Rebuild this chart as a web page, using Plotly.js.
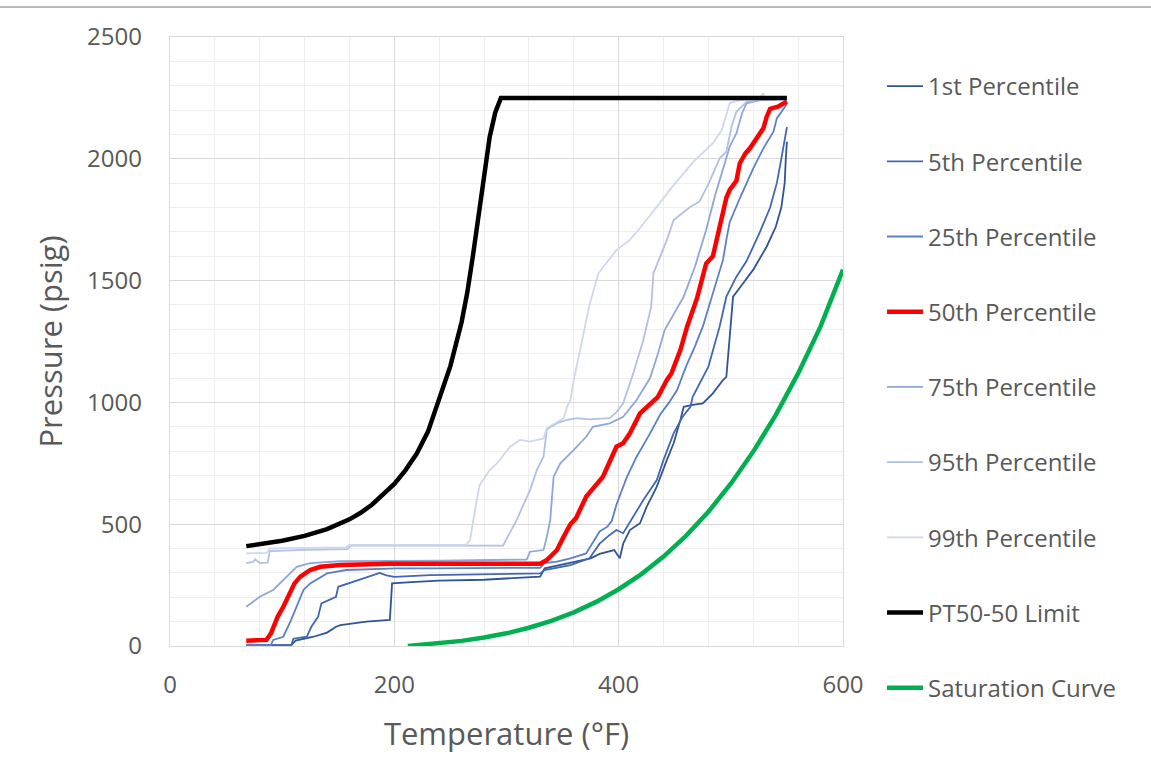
<!DOCTYPE html>
<html>
<head>
<meta charset="utf-8">
<script src="https://cdn.plot.ly/plotly-3.0.1.min.js"></script>
<style>
  html, body { margin: 0; padding: 0; background: #ffffff; }
  #chart { width: 1151px; height: 772px; }
</style>
</head>
<body>
<div id="chart"></div>
<script>
// Heat-up pressure/temperature percentiles (°F, psig)
const seriesNames = ["1st Percentile", "5th Percentile", "25th Percentile", "50th Percentile",
  "75th Percentile", "95th Percentile", "99th Percentile", "PT50-50 Limit", "Saturation Curve"];

const p1T = [68, 108, 112, 128, 140, 148, 152, 175, 196, 198, 215, 240, 280, 330, 334, 345, 357, 375, 383, 390, 396, 401, 404, 410, 419, 425, 434, 443, 449, 455, 458, 466, 475, 484, 493, 496, 497, 502, 511, 520, 532, 540, 545, 548, 549, 550];
const p1P = [3, 3, 22, 38, 55, 79, 86, 100, 107, 257, 262, 268, 272, 285, 319, 330, 339, 360, 378, 385, 394, 360, 420, 476, 504, 572, 654, 764, 832, 928, 982, 990, 996, 1037, 1092, 1105, 1160, 1434, 1489, 1545, 1640, 1720, 1800, 1900, 2000, 2070];

const p5T = [68, 108, 110, 122, 126, 132, 135, 148, 150, 169, 181, 187, 193, 200, 232, 330, 334, 357, 374, 383, 392, 398, 404, 413, 422, 434, 440, 449, 457, 464, 466, 480, 490, 496, 505, 514, 520, 526, 535, 541, 545, 548, 550];
const p5P = [2, 2, 30, 38, 79, 120, 175, 202, 243, 271, 291, 300, 290, 284, 291, 298, 312, 332, 360, 420, 456, 476, 463, 531, 599, 681, 764, 873, 941, 982, 1023, 1147, 1311, 1434, 1516, 1580, 1640, 1700, 1800, 1900, 2000, 2080, 2130];

const p25T = [68, 90, 92, 101, 108, 113, 119, 125, 140, 157, 202, 232, 330, 334, 345, 357, 371, 383, 390, 394, 398, 407, 416, 428, 437, 445, 452, 460, 468, 475, 487, 493, 496, 499, 508, 520, 529, 538, 541, 547, 550];
const p25P = [2, 5, 25, 38, 107, 161, 230, 257, 298, 312, 319, 319, 321, 340, 346, 360, 380, 470, 490, 515, 580, 690, 777, 873, 950, 1000, 1050, 1147, 1230, 1311, 1489, 1585, 1667, 1740, 1838, 1961, 2043, 2111, 2166, 2207, 2225];

const p50T = [68, 86, 90, 93, 96, 101, 105, 111, 116, 125, 134, 152, 196, 240, 330, 336, 345, 351, 357, 362, 371, 386, 398, 404, 410, 419, 428, 435, 443, 447, 455, 461, 470, 478, 484, 492, 496, 499, 505, 508, 513, 517, 522, 526, 529, 532, 535, 542, 550];
const p50P = [22, 25, 52, 93, 120, 161, 202, 257, 284, 312, 325, 332, 338, 338, 338, 353, 394, 449, 500, 525, 613, 695, 818, 832, 873, 955, 996, 1023, 1092, 1119, 1215, 1311, 1430, 1570, 1600, 1749, 1840, 1872, 1910, 1982, 2022, 2043, 2077, 2100, 2125, 2173, 2205, 2214, 2235];

const p75T = [68, 80, 92, 104, 113, 125, 152, 240, 318, 321, 333, 336, 339, 342, 348, 360, 371, 377, 392, 404, 416, 428, 435, 441, 458, 468, 478, 486, 495, 499, 505, 510, 514, 526, 550];
const p75P = [161, 202, 230, 284, 325, 340, 348, 350, 355, 387, 394, 449, 517, 695, 750, 805, 859, 900, 914, 941, 1010, 1100, 1200, 1297, 1434, 1557, 1708, 1850, 1995, 2050, 2105, 2187, 2228, 2241, 2245];

const p95T = [68, 74, 76, 80, 87, 89, 120, 158, 161, 297, 300, 306, 309, 321, 327, 333, 336, 345, 354, 363, 374, 392, 398, 404, 413, 422, 429, 431, 443, 449, 464, 472, 481, 490, 496, 501, 505, 514, 526, 550];
const p95P = [340, 345, 356, 340, 342, 390, 395, 398, 412, 412, 440, 490, 517, 640, 722, 777, 890, 915, 928, 935, 930, 935, 960, 996, 1119, 1256, 1393, 1530, 1667, 1749, 1803, 1824, 1906, 2002, 2029, 2139, 2193, 2234, 2241, 2248];

const p99T = [68, 86, 89, 100, 157, 160, 264, 267.5, 272, 276, 285, 291.5, 303, 312, 321, 333, 336, 345, 351, 354, 357, 360, 366, 374, 382, 398, 410, 419, 434, 449, 466.5, 484, 492, 496, 499, 508, 525, 529, 531, 550];
const p99P = [380, 382, 400, 402, 405, 415, 415, 435, 560, 660, 722, 750, 817, 846, 839, 852, 895, 920, 935, 982, 1010, 1092, 1229, 1400, 1530, 1625, 1667, 1716, 1803, 1892, 1987, 2064, 2118, 2187, 2229, 2241, 2245, 2270, 2245, 2248];

const limitT = [68, 80, 100, 120, 140, 160, 170, 180, 190, 200, 210, 220, 230, 240, 250, 260, 265, 270, 275, 280, 285, 290, 295, 550];
const limitP = [410, 418, 432, 452, 480, 520, 547, 580, 620, 665, 722, 790, 880, 1010, 1150, 1330, 1450, 1600, 1760, 1935, 2090, 2190, 2250, 2250];

const satT = [212, 220, 240, 260, 280, 300, 320, 340, 360, 380, 400, 420, 440, 460, 480, 500, 520, 540, 560, 580, 600];
const satP = [0, 3, 10, 21, 35, 52, 75, 103, 138, 181, 233, 294, 367, 452, 551, 666, 798, 948, 1119, 1312, 1545];

const xTickVals = [0, 200, 400, 600];
const yTickVals = [0, 500, 1000, 1500, 2000, 2500];

const textGrey = "#595959";
const fontFamily = "'Open Sans', 'Noto Sans', sans-serif";

function line(name, xs, ys, color, width, rank) {
  return {
    type: "scatter", mode: "lines", name: name, x: xs, y: ys,
    line: { color: color, width: width },
    legendgroup: "g" + rank, legendrank: rank, hoverinfo: "x+y+name"
  };
}

// Draw order: thin percentile lines first, median, limit and saturation on top
const traces = [
  line(seriesNames[0], p1T, p1P, "#2f5597", 1.8, 1),
  line(seriesNames[1], p5T, p5P, "#4068b2", 1.8, 2),
  line(seriesNames[2], p25T, p25P, "#5b80c7", 1.8, 3),
  line(seriesNames[4], p75T, p75P, "#8fa6d8", 1.8, 5),
  line(seriesNames[5], p95T, p95P, "#b1c0e4", 1.8, 6),
  line(seriesNames[6], p99T, p99P, "#cdd7ee", 1.8, 7),
  line(seriesNames[3], p50T, p50P, "#ff0000", 4.5, 4),
  line(seriesNames[7], limitT, limitP, "#000000", 4.5, 8),
  line(seriesNames[8], satT, satP, "#00b050", 4.5, 9)
];

const plotL = 170, plotR = 843, plotT = 37, plotB = 646;
const plotW = plotR - plotL, plotH = plotB - plotT;

const layout = {
  width: 1151, height: 772,
  margin: { l: plotL, r: 1151 - plotR, t: plotT, b: 772 - plotB, autoexpand: false },
  paper_bgcolor: "#ffffff", plot_bgcolor: "#ffffff",
  font: { family: fontFamily, color: textGrey, size: 22 },
  showlegend: true,
  legend: {
    x: (882 - plotL) / plotW, xanchor: "left",
    y: 1 - (64 - plotT) / plotH, yanchor: "top",
    font: { family: fontFamily, size: 24, color: textGrey },
    traceorder: "grouped", tracegroupgap: 41, itemwidth: 36,
    maxheight: 760,
    bgcolor: "rgba(0,0,0,0)"
  },
  xaxis: {
    range: [0, 600], tickvals: xTickVals, ticktext: xTickVals.map(String),
    showgrid: true, gridcolor: "#d9d9d9", gridwidth: 1.2,
    minor: { dtick: 40, tick0: 0, showgrid: true, gridcolor: "#eeeeee", gridwidth: 1 },
    zeroline: false, showline: true, linecolor: "#d9d9d9", linewidth: 1.2, mirror: true,
    ticks: "", ticklabelstandoff: 17,
    tickfont: { family: fontFamily, size: 24, color: textGrey },
    title: { text: "Temperature (°F)", font: { family: fontFamily, size: 31, color: textGrey }, standoff: 24 },
    fixedrange: true
  },
  yaxis: {
    range: [0, 2500], tickvals: yTickVals, ticktext: yTickVals.map(String),
    showgrid: true, gridcolor: "#d9d9d9", gridwidth: 1.2,
    minor: { dtick: 100, tick0: 0, showgrid: true, gridcolor: "#eeeeee", gridwidth: 1 },
    zeroline: false, showline: true, linecolor: "#d9d9d9", linewidth: 1.2, mirror: true,
    ticks: "", ticklabelstandoff: 22,
    tickfont: { family: fontFamily, size: 24, color: textGrey },
    title: { text: "Pressure (psig)", font: { family: fontFamily, size: 31, color: textGrey }, standoff: 15 },
    fixedrange: true
  },
  shapes: [{
    type: "line", xref: "paper", yref: "paper",
    x0: -plotL / plotW, x1: (1151 - plotL) / plotW,
    y0: 1 + (plotT - 7) / plotH, y1: 1 + (plotT - 7) / plotH,
    line: { color: "#a0a0a0", width: 1.5 }
  }]
};

Plotly.newPlot("chart", traces, layout, { displayModeBar: false, staticPlot: true });
</script>
</body>
</html>
